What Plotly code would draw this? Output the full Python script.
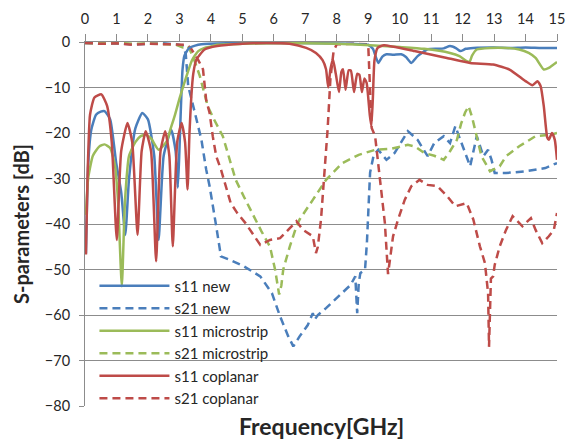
import plotly.graph_objects as go

# ---------------- data ----------------
f_s11_new = [0.03, 0.1, 0.2, 0.35, 0.5, 0.62, 0.8, 0.99, 1.15, 1.28, 1.4, 1.6, 1.82, 2.0, 2.2, 2.34, 2.5, 2.74, 2.88, 2.95,
             3.0, 3.05, 3.1, 3.16, 3.3, 3.5, 3.7, 4.5, 6.0, 7.5, 8.5, 9.0, 9.15, 9.32, 9.45, 9.58, 9.8, 10.05, 10.2, 10.37,
             10.57, 10.89, 11.2, 11.4, 11.6, 11.8, 11.93, 12.1, 12.34, 13.0, 13.5, 14.0, 14.5, 15.0]
s11_new = [-46.5, -27, -19.3, -16, -15.3, -15.2, -17, -26.5, -33, -42.4, -30, -19, -15.6, -17, -25, -43.5, -25, -19.3, -24, -32,
           -24, -14, -6, -3, -1.4, -0.8, -0.5, -0.3, -0.2, -0.3, -0.4, -0.6, -1.5, -4.6, -3.2, -2.7, -2.8, -2.7, -3.3, -4.6,
           -3.1, -1.6, -1.5, -1.4, -0.9, -1.4, -2.0, -1.5, -1.3, -1.2, -1.3, -1.2, -1.3, -1.3]

f_s21_new = [0, 0.5, 1.0, 1.5, 2.0, 2.5, 2.9, 3.1, 3.2, 3.28, 3.49, 3.7, 3.85, 3.96, 4.17, 4.32, 4.58, 5.05, 5.57, 5.94, 6.2,
             6.46, 6.62, 6.82, 7.08, 7.24, 7.3, 7.4, 7.66, 8.07, 8.44, 8.59, 8.65, 8.7, 8.75, 8.9, 8.96, 9.06, 9.17, 9.32,
             9.58, 9.84, 10.05, 10.26, 10.57, 10.89, 11.1, 11.4, 11.6, 11.77, 11.9, 12.08, 12.24, 12.45, 12.66, 12.81,
             12.92, 13.02, 13.38, 14.0, 14.63, 15.0]
s21_new = [-0.2, -0.4, -0.3, -0.5, -0.4, -0.3, -0.5, -0.8, -2.5, -9.7, -15.5, -21.5, -28, -31.7, -40.5, -47.1, -47.8, -49.3,
           -51.5, -55.2, -60.3, -64.7, -66.9, -64.7, -62.2, -59.6, -61, -60, -58.5, -55.9, -53.4, -51.5, -59.6, -53, -50.8,
           -50, -44, -28.7, -25, -23.7, -25.9, -24.4, -22, -19.6, -21.5, -25.1, -22.2, -20.7, -22.2, -18.5, -21, -24.4,
           -27.3, -20.7, -25.1, -23.7, -25.9, -28.8, -28.8, -28.4, -27.7, -26.6]

f_s11_micro = [0.03, 0.1, 0.25, 0.45, 0.62, 0.8, 0.95, 1.05, 1.17, 1.27, 1.4, 1.6, 1.77, 1.93, 2.1, 2.34, 2.6, 2.71, 2.86,
               3.0, 3.18, 3.4, 3.6, 3.8, 4.0, 4.2, 5.0, 6.0, 7.0, 8.0, 9.2, 10.0, 10.78, 11.6, 11.9, 12.13, 12.22, 12.3,
               12.45, 12.87, 13.4, 13.8, 14.1, 14.32, 14.58, 14.74, 15.0]
s11_micro = [-38, -30, -25, -23, -22.5, -23.3, -27, -35, -53.7, -35, -25, -22, -20.7, -20.4, -21.2, -23.7, -21.8, -19.3, -16,
             -12.5, -8.5, -4, -2, -1.3, -1.0, -0.6, -0.4, -0.3, -0.3, -0.4, -0.77, -1.1, -1.5, -2.4, -3.1, -4.2, -4.4, -3.0,
             -1.65, -1.3, -1.3, -1.65, -2.4, -3.5, -6.05, -5.7, -4.4]

f_s21_micro = [0, 0.5, 1.0, 1.5, 2.0, 2.5, 2.9, 3.1, 3.2, 3.3, 3.45, 3.65, 3.9, 4.1, 4.38, 4.63, 4.79, 5.05, 5.37, 5.6, 5.88,
               6.04, 6.17, 6.24, 6.3, 6.51, 6.72, 6.82, 7.24, 7.66, 8.18, 8.7, 9.22, 9.7, 10.26, 10.5, 10.78, 11.1, 11.4,
               11.6, 11.82, 11.95, 12.08, 12.19, 12.3, 12.4, 12.6, 12.87, 13.18, 13.38, 13.8, 14.32, 14.8, 15.0]
s21_micro = [-0.2, -0.3, -0.2, -0.4, -0.3, -0.4, -0.6, -1.2, -0.8, -1.2, -3.5, -7.5, -14.1, -17, -20.7, -26.6, -30.3, -34,
             -38.5, -41.5, -45, -50, -55.5, -53.5, -50, -44.9, -40.5, -39, -34.7, -30.3, -26.6, -24.8, -23.7, -23.5, -22.6,
             -23, -24.4, -25, -25.9, -24, -21.5, -18, -15.5, -14.1, -16.5, -19.3, -25.1, -28.4, -27.3, -25.1, -22.9, -20.7,
             -20.4, -20]

f_s11_cop = [0.03, 0.08, 0.16, 0.3, 0.52, 0.7, 0.85, 1.01, 1.15, 1.35, 1.5, 1.67, 1.8, 1.93, 2.1, 2.26, 2.4, 2.55, 2.68, 2.79,
             2.93, 3.07, 3.18, 3.26, 3.32, 3.38, 3.44, 3.54, 3.8, 4.2, 5.0, 5.78, 6.5, 7.03, 7.34, 7.55, 7.66, 7.73, 7.8,
             7.88, 7.97, 8.07, 8.15, 8.2, 8.28, 8.38, 8.45, 8.55, 8.65, 8.72, 8.8, 8.88, 8.95, 9.05, 9.1, 9.15, 9.2, 9.3,
             9.5, 10.47, 11.5, 12.24, 12.97, 13.49, 14.0, 14.22, 14.38, 14.48, 14.58, 14.69, 14.74, 14.84, 14.93, 15.0]
s11_cop = [-46.7, -30, -16, -12.2, -11.5, -14, -22, -43.5, -24, -17.8, -22, -42.4, -24, -19.6, -24, -48.2, -24, -19.6, -25,
           -44.9, -22, -17.8, -22, -32.4, -20, -11.9, -7, -3.85, -1.65, -0.9, -0.4, -0.2, -0.4, -1.3, -2.4, -4.0, -6.0,
           -10.0, -6.0, -3.8, -7.0, -11.0, -6.5, -6.0, -10.5, -6.2, -6.3, -11.0, -7.0, -7.2, -11.0, -8.0, -9.0, -16.0,
           -18.5, -12.0, -4.0, -1.3, -0.7, -2.0, -3.5, -4.6, -4.95, -6.05, -8.6, -9.5, -8.6, -9.7, -14.1, -21, -21.5,
           -20, -21.5, -25.9]

f_s21_cop = [0, 0.5, 1.0, 1.5, 2.0, 2.5, 3.0, 3.2, 3.35, 3.49, 3.6, 3.75, 3.85, 3.96, 4.06, 4.17, 4.32, 4.63, 4.84, 5.1,
             5.37, 5.57, 5.88, 6.2, 6.51, 6.72, 6.93, 7.1, 7.24, 7.34, 7.4, 7.5, 7.6, 7.71, 7.8, 7.9, 8.0, 8.5, 9.0, 9.08,
             9.11, 9.22, 9.32, 9.42, 9.53, 9.63, 9.79, 9.95, 10.16, 10.37, 10.63, 10.89, 11.2, 11.51, 11.77, 12.13, 12.34,
             12.55, 12.71, 12.81, 12.84, 12.9, 12.97, 13.02, 13.18, 13.38, 13.59, 13.9, 14.17, 14.32, 14.53, 14.74, 14.9,
             15.0]
s21_cop = [-0.2, -0.4, -0.3, -0.6, -0.4, -0.5, -0.7, -0.6, -1.2, -2.75, -4, -6, -12.7, -15.6, -20.7, -25.1, -28, -35.4,
           -37.6, -39.8, -42.7, -44.6, -43.5, -43.1, -40.9, -39.4, -41.3, -42, -42.7, -46.4, -45, -39, -30.3, -19.2, -8,
           -2, -0.5, -0.4, -0.5, -12, -18.9, -20.7, -26.6, -33.2, -39.8, -51, -42.7, -39, -34.7, -31.7, -30.3, -31.4, -31.7,
           -33.9, -36.1, -35.4, -39, -44.9, -48.6, -55.2, -67, -52, -51.5, -49, -44.9, -41.3, -38.3, -40.5, -38.7, -41.3,
           -44.2, -42.7, -41.3, -37.6]

x_ticks = list(range(0, 16))
y_ticks = list(range(-80, 1, 10))

BLUE = "#4A7EBB"
GREEN = "#9BBB59"
RED = "#BE4B48"
FONT = "Lato"

series = [
    ("s11 new", f_s11_new, s11_new, BLUE, "solid"),
    ("s21 new", f_s21_new, s21_new, BLUE, "dash"),
    ("s11 microstrip", f_s11_micro, s11_micro, GREEN, "solid"),
    ("s21 microstrip", f_s21_micro, s21_micro, GREEN, "dash"),
    ("s11 coplanar", f_s11_cop, s11_cop, RED, "solid"),
    ("s21 coplanar", f_s21_cop, s21_cop, RED, "dash"),
]

fig = go.Figure()
# dashed traces drawn first (underneath), solid traces on top; legend order kept via legendrank
draw_order = [1, 3, 5, 0, 2, 4]
for idx in draw_order:
    name, fx, fy, col, style = series[idx]
    if style == "solid":
        line = dict(color=col, width=2.5, shape="spline", smoothing=0.5)
    else:
        line = dict(color=col, width=2.5, dash="8px,5px")
    fig.add_trace(go.Scatter(x=fx, y=fy, mode="lines", name=name, line=line, legendrank=idx + 1))

fig.update_layout(
    width=574, height=442,
    margin=dict(l=85, r=9, t=42, b=36),
    paper_bgcolor="white", plot_bgcolor="white",
    font=dict(family=FONT, color="#262626"),
    showlegend=True,
    legend=dict(x=0.02, y=0.375, xanchor="left", yanchor="top", traceorder="normal",
                bgcolor="rgba(0,0,0,0)", font=dict(size=15, family=FONT, color="#262626"),
                itemwidth=70, tracegroupgap=0),
    xaxis=dict(side="top", range=[0, 15], tickvals=x_ticks, showgrid=False, zeroline=False,
               showline=True, linecolor="#8c8c8c", linewidth=1, ticks="outside", ticklen=7,
               tickcolor="#8c8c8c", tickfont=dict(size=14.5, family=FONT), ticklabelstandoff=4),
    yaxis=dict(range=[-80, 0], tickvals=y_ticks, showgrid=True, gridcolor="#8c8c8c", gridwidth=1,
               zeroline=False, showline=True, linecolor="#8c8c8c", linewidth=1, ticks="outside",
               ticklen=5, tickcolor="#8c8c8c", tickfont=dict(size=14.5, family=FONT), ticklabelstandoff=6,
               title=dict(text="<b>S-parameters [dB]</b>", font=dict(size=20, family=FONT), standoff=9)),
    annotations=[dict(text="<b>Frequency[GHz]</b>", x=0.5, y=0, xref="paper", yref="paper",
                      xanchor="center", yanchor="top", yshift=-4, showarrow=False,
                      font=dict(size=23, family=FONT, color="#262626"))],
)

fig.write_html("out.html")
